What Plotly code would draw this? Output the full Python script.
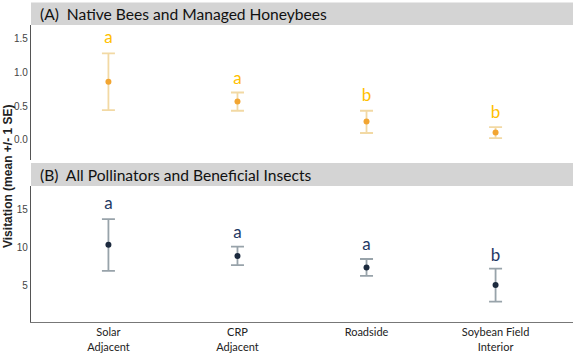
import plotly.graph_objects as go
from plotly.subplots import make_subplots

# data
sites = ["Solar<br>Adjacent", "CRP<br>Adjacent", "Roadside", "Soybean Field<br>Interior"]

bees_mean = [0.86, 0.565, 0.27, 0.108]
bees_upper = [1.28, 0.70, 0.43, 0.187]
bees_lower = [0.44, 0.43, 0.10, 0.025]
bees_letters = ["a", "a", "b", "b"]
bees_letter_y = [1.50, 0.885, 0.64, 0.38]

all_mean = [10.34, 8.9, 7.4, 5.13]
all_upper = [13.7, 10.1, 8.5, 7.25]
all_lower = [6.95, 7.7, 6.3, 2.96]
all_letters = ["a", "a", "a", "b"]
all_letter_y = [15.5, 11.8, 10.2, 8.8]

W, H = 575, 353
ML, MR, MT, MB = 31, 2, 2, 31


def py(y_px):
    # pixel row -> paper coordinate
    return (H - MB - y_px) / (H - MT - MB)


fig = make_subplots(rows=2, cols=1, shared_xaxes=False)

panels = [
    (1, bees_mean, bees_upper, bees_lower, bees_letters, bees_letter_y,
     "#f2d9a4", "#f2a531", "#ffc000"),
    (2, all_mean, all_upper, all_lower, all_letters, all_letter_y,
     "#98a3aa", "#1c2a3e", "#1f3864"),
]

for row, mean, upper, lower, letters, ly, bar_c, pt_c, let_c in panels:
    fig.add_trace(go.Scatter(
        x=sites, y=mean, mode="markers",
        marker=dict(color=pt_c, size=6),
        error_y=dict(
            type="data", symmetric=False,
            array=[u - m for u, m in zip(upper, mean)],
            arrayminus=[m - l for m, l in zip(mean, lower)],
            color=bar_c, thickness=1.8, width=6.5,
        ),
        showlegend=False,
    ), row=row, col=1)
    fig.add_trace(go.Scatter(
        x=sites, y=ly, mode="text", text=letters,
        textfont=dict(family="Lato", size=17, color=let_c),
        showlegend=False,
    ), row=row, col=1)

axis_common = dict(showgrid=False, zeroline=False, range=[-0.6, 3.6], automargin=False)
fig.update_xaxes(axis_common)
fig.update_xaxes(showticklabels=False, showline=False, domain=[0, 1], row=1, col=1)
fig.update_xaxes(showline=True, linecolor="#777", linewidth=1, ticks="", ticklabelstandoff=0,
                 tickfont=dict(family="Lato", size=11, color="#222"),
                 domain=[0, 1], row=2, col=1)

ytick_font = dict(family="Liberation Sans", size=10, color="#444")
fig.update_yaxes(range=[-0.3, 1.7], tickvals=[0, 0.5, 1.0, 1.5], ticktext=["0.0", "0.5", "1.0", "1.5"],
                 domain=[py(160), py(25)], showgrid=False, zeroline=False, automargin=False,
                 showline=True, linecolor="#555", linewidth=1.2, ticks="",
                 tickfont=ytick_font, row=1, col=1)
fig.update_yaxes(range=[0.3, 18], tickvals=[5, 10, 15],
                 domain=[0, py(186)], showgrid=False, zeroline=False, automargin=False,
                 showline=True, linecolor="#555", linewidth=1.2, ticks="",
                 tickfont=ytick_font, row=2, col=1)

# panel header strips
headers = [("(A)  Native Bees and Managed Honeybees", 2.5, 25),
           ("(B)  All Pollinators and Beneficial Insects", 163, 186)]
for label, top, bottom in headers:
    fig.add_shape(type="rect", xref="paper", yref="paper",
                  x0=0, x1=1, y0=py(bottom), y1=py(top),
                  fillcolor="#d4d4d4", line_width=0, layer="below")
    fig.add_annotation(text=label, xref="paper", yref="paper",
                       x=7 / (W - ML - MR), y=(py(top) + py(bottom)) / 2,
                       xanchor="left", yanchor="middle", showarrow=False,
                       font=dict(family="Lato", size=15.6, color="#111"))

fig.add_annotation(text="<b>Visitation (mean +/- 1 SE)</b>", xref="paper", yref="paper",
                   x=-23 / (W - ML - MR), y=py(177), textangle=-90,
                   xanchor="center", yanchor="middle", showarrow=False,
                   font=dict(family="Liberation Sans", size=12, color="#222"))

fig.update_layout(
    width=W, height=H,
    margin=dict(l=ML, r=MR, t=MT, b=MB, autoexpand=False),
    paper_bgcolor="white", plot_bgcolor="white",
)

# the page body has a default 8px margin; drop it so the figure fills the window
fig.write_html("out.html", config={"displayModeBar": False},
               post_script="document.body.style.margin='0';")
